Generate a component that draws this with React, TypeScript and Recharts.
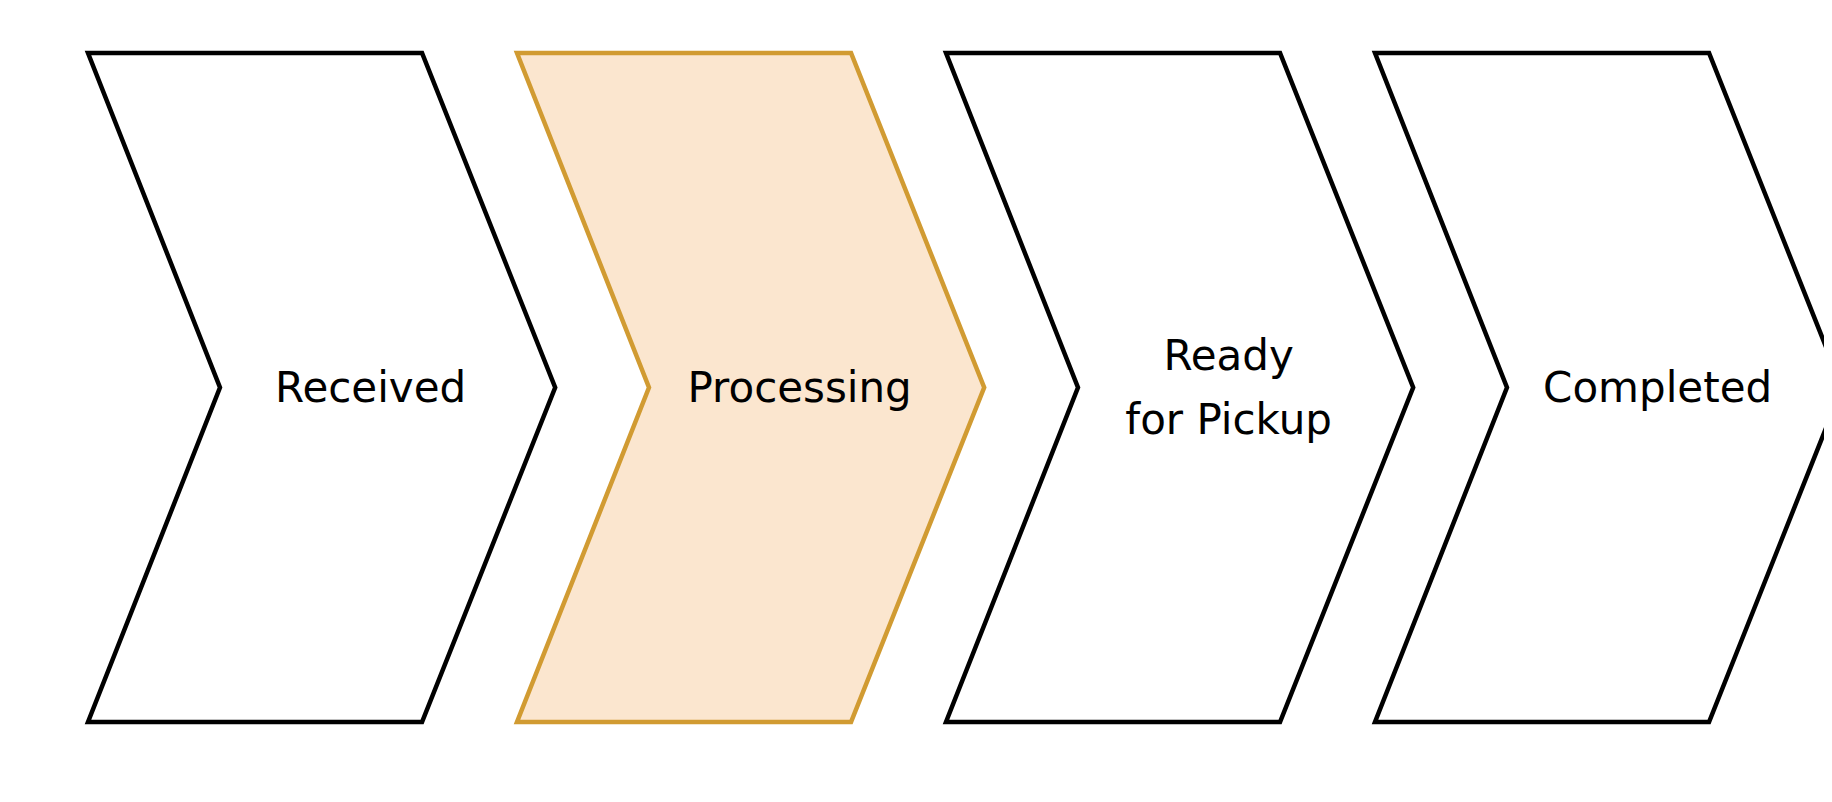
import React from "react";
import { BarChart, Bar, XAxis, YAxis, Cell } from "recharts";

const stages = ["Received", "Processing", "Ready\nfor Pickup", "Completed"];
const active = [false, true, false, false];
const levels = [1, 1, 1, 1];

const data = stages.map((name, i) => ({ name, level: levels[i] }));

function Chevron(props: any) {
  const { x, y, width, height, index } = props;
  const w = width * 1.089;
  const mid = y + height / 2;
  const pts = [
    [x, y],
    [x + w * 0.715, y],
    [x + w, mid],
    [x + w * 0.715, y + height],
    [x, y + height],
    [x + w * 0.2825, mid],
  ]
    .map((p) => p.join(","))
    .join(" ");
  const on = active[index];
  const lines = stages[index].split("\n");
  const cx = x + w * 0.605;
  return (
    <g>
      <polygon
        points={pts}
        fill={on ? "#fbe6cf" : "#fff"}
        stroke={on ? "#d19b32" : "#000"}
        strokeWidth={4.5}
      />
      {lines.map((t, k) => (
        <text
          key={k}
          x={cx}
          y={mid + (k - (lines.length - 1) / 2) * 64}
          textAnchor="middle"
          dominantBaseline="central"
          fontFamily="DejaVu Sans"
          fontSize={42}
          fill="#000"
        >
          {t}
        </text>
      ))}
    </g>
  );
}

export default function App() {
  return (
    <BarChart
      width={1816}
      height={786}
      data={data}
      margin={{ top: 45, right: 20, bottom: 72, left: 80 }}
      barCategoryGap={0}
    >
      <XAxis dataKey="name" hide />
      <YAxis domain={[0, 1]} hide />
      <Bar dataKey="level" shape={<Chevron />} isAnimationActive={false}>
        {data.map((d, i) => (
          <Cell key={i} />
        ))}
      </Bar>
    </BarChart>
  );
}
